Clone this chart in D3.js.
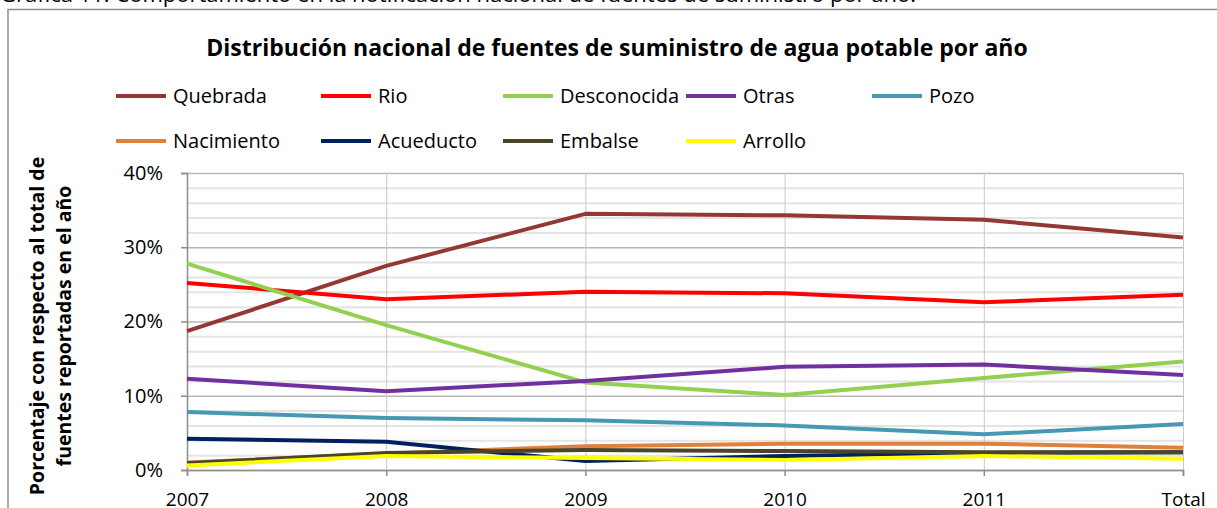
<!DOCTYPE html>
<html>
<head>
<meta charset="utf-8">
<script src="https://cdn.jsdelivr.net/npm/d3@7"></script>
<style>
  body { margin: 0; background: #fff; overflow: hidden; }
  svg { display: block; font-family: "Open Sans", sans-serif; }
</style>
</head>
<body>
<svg id="chart" width="1217" height="508"></svg>
<script>
// categories and series (percent of reported sources)
let categories = ['2007', '2008', '2009', '2010', '2011', 'Total'];
let quebrada = [18.7, 27.5, 34.5, 34.3, 33.7, 31.3];
let rio = [25.2, 23.0, 24.0, 23.8, 22.6, 23.6];
let desconocida = [27.8, 19.5, 11.8, 10.1, 12.4, 14.6];
let otras = [12.3, 10.6, 12.0, 13.9, 14.2, 12.8];
let pozo = [7.8, 7.0, 6.7, 6.0, 4.8, 6.2];
let nacimiento = [1.0, 2.2, 3.2, 3.55, 3.55, 3.0];
let acueducto = [4.2, 3.8, 1.2, 1.9, 2.3, 2.4];
let embalse = [0.9, 2.3, 2.7, 2.55, 2.4, 2.4];
let arrollo = [0.6, 1.9, 1.6, 1.35, 1.9, 1.5];
let yTicks = [0, 10, 20, 30, 40];

let series = [
  { name: 'Quebrada', values: quebrada, color: '#953735' },
  { name: 'Rio', values: rio, color: '#ff0000' },
  { name: 'Desconocida', values: desconocida, color: '#92d050' },
  { name: 'Otras', values: otras, color: '#7030a0' },
  { name: 'Pozo', values: pozo, color: '#4599b0' },
  { name: 'Nacimiento', values: nacimiento, color: '#e0803c' },
  { name: 'Acueducto', values: acueducto, color: '#002060' },
  { name: 'Embalse', values: embalse, color: '#4a452a' },
  { name: 'Arrollo', values: arrollo, color: '#ffff00' }
];

let svg = d3.select('#chart');

// caption above the chart box (cut off at the top)
svg.append('text')
  .attr('x', 0)
  .attr('y', 1.5)
  .style('font-size', '22px')
  .text('Gráfica 11: Comportamiento en la notificación nacional de fuentes de suministro por año.');

// chart box
svg.append('rect')
  .attr('x', 8)
  .attr('y', 9.5)
  .attr('width', 1240)
  .attr('height', 540)
  .attr('fill', 'none')
  .attr('stroke', '#8c8c8c')
  .attr('stroke-width', 1.5);

svg.append('text')
  .attr('x', 617)
  .attr('y', 56)
  .attr('text-anchor', 'middle')
  .style('font-size', '23px')
  .style('font-weight', 'bold')
  .text('Distribución nacional de fuentes de suministro de agua potable por año');

let x = d3.scalePoint()
  .domain(categories)
  .range([187, 1183]);

let y = d3.scaleLinear()
  .domain([0, 40])
  .range([470, 173]);

// minor gridlines every 2%
svg.append('g')
  .call(d3.axisRight(y).tickValues(d3.range(2, 40, 2).filter(d => d % 10 != 0))
    .tickSize(1183 - 187).tickFormat(''))
  .attr('transform', 'translate(187,0)')
  .call(g => g.select('.domain').remove())
  .call(g => g.selectAll('line').attr('stroke', '#e4e4e4').attr('stroke-width', 2));

// major gridlines
svg.append('g')
  .call(d3.axisRight(y).tickValues(yTicks).tickSize(1183 - 187).tickFormat(''))
  .attr('transform', 'translate(187,0)')
  .call(g => g.select('.domain').remove())
  .call(g => g.selectAll('line').attr('stroke', '#b8b8b8').attr('stroke-width', 1.5));

// vertical gridlines
svg.append('g')
  .attr('transform', 'translate(0,173)')
  .call(d3.axisBottom(x).tickSize(470 - 173).tickFormat(''))
  .call(g => g.select('.domain').remove())
  .call(g => g.selectAll('line').attr('stroke', '#c8c8c8').attr('stroke-width', 1));

// y axis
svg.append('g')
  .attr('transform', 'translate(187,0)')
  .call(d3.axisLeft(y).tickValues(yTicks).tickSize(6).tickPadding(18).tickFormat(d => d + '%'))
  .call(g => g.select('.domain').attr('stroke', '#8c8c8c').attr('stroke-width', 1.5))
  .call(g => g.selectAll('line').attr('stroke', '#8c8c8c').attr('stroke-width', 1.5))
  .call(g => g.selectAll('text').attr('fill', '#000').style('font-size', '20px').style('font-family', '"Open Sans"'));

// x axis
svg.append('g')
  .attr('transform', 'translate(0,470)')
  .call(d3.axisBottom(x).tickSize(6).tickPadding(17))
  .call(g => g.select('.domain').attr('stroke', '#8c8c8c').attr('stroke-width', 1.5))
  .call(g => g.selectAll('line').attr('stroke', '#8c8c8c').attr('stroke-width', 1.5))
  .call(g => g.selectAll('text').attr('fill', '#000').style('font-size', '19px').style('font-family', '"Open Sans"'));

// y axis title
let yTitle = svg.append('text')
  .attr('transform', 'translate(44,326) rotate(-90)')
  .attr('text-anchor', 'middle')
  .style('font-size', '19.5px')
  .style('font-weight', 'bold');
yTitle.append('tspan').attr('x', 0).attr('y', 0).text('Porcentaje con respecto al total de');
yTitle.append('tspan').attr('x', 0).attr('y', 27).text('fuentes reportadas en el año');

// lines
let line = d3.line()
  .x((d, i) => x(categories[i]))
  .y(d => y(d));

svg.append('g')
  .selectAll('path')
  .data(series)
  .enter()
  .append('path')
  .attr('d', d => line(d.values))
  .attr('fill', 'none')
  .attr('stroke', d => d.color)
  .attr('stroke-width', 4)
  .attr('stroke-linejoin', 'round');

// legend
let legendX = [116, 321, 503, 686, 872];
let legendY = [96, 141];

let legend = svg.selectAll('.legend')
  .data(series)
  .enter()
  .append('g')
  .attr('class', 'legend')
  .attr('transform', (d, i) => 'translate(' + legendX[i % 5] + ',' + legendY[Math.floor(i / 5)] + ')');

legend.append('line')
  .attr('x1', 0)
  .attr('x2', 50)
  .attr('stroke', d => d.color)
  .attr('stroke-width', 4);

legend.append('text')
  .attr('x', 57)
  .attr('y', 7)
  .style('font-size', '20px')
  .text(d => d.name);
</script>
</body>
</html>
